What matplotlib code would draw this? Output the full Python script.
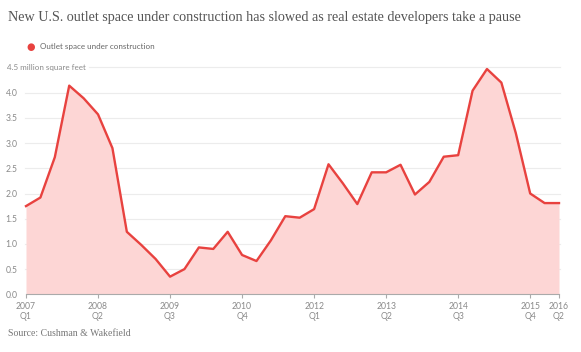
import matplotlib.pyplot as plt
import numpy as np

# quarterly outlet space under construction, 2007 Q1 .. 2016 Q2 (million sq ft)
quarters = np.arange(38)
space = [1.75, 1.92, 2.72, 4.14, 3.89, 3.57, 2.90, 1.24,
         0.98, 0.70, 0.35, 0.50, 0.93, 0.90, 1.24, 0.78,
         0.66, 1.07, 1.55, 1.52, 1.69, 2.58, 2.20, 1.79,
         2.42, 2.42, 2.57, 1.98, 2.23, 2.73, 2.76, 4.04,
         4.47, 4.20, 3.20, 2.00, 1.81, 1.81]
tick_pos = [0, 5, 10, 15, 20, 25, 30, 35, 37]
tick_years = ['2007', '2008', '2009', '2010', '2012', '2013', '2014', '2015', '2016']
tick_qtrs = ['Q1', 'Q2', 'Q3', 'Q4', 'Q1', 'Q2', 'Q3', 'Q4', 'Q2']
y_ticks = [0.0, 0.5, 1.0, 1.5, 2.0, 2.5, 3.0, 3.5, 4.0]

red = '#e8423f'
fill = '#fdd6d5'
grey = '#8a8a8a'
sans = 'Lato'
serif = 'Liberation Serif'

fig = plt.figure(figsize=(5.81, 3.52), dpi=100)
ax = fig.add_axes([26 / 581, 1 - 294.3 / 352, (559 - 26) / 581, (294.3 - 67.5) / 352])

ax.fill_between(quarters, space, 0, color=fill, lw=0, zorder=1)
ax.plot(quarters, space, color=red, lw=1.7, zorder=3, clip_on=False)

ax.set_xlim(0, 37)
ax.set_ylim(0, 4.5)

# horizontal grid
for v in y_ticks[1:]:
    ax.plot([-0.1, 37.1], [v, v], color='#ececec', lw=0.8, zorder=0.5, clip_on=False)
ax.plot([4.4, 37.1], [4.5, 4.5], color='#ececec', lw=0.8, zorder=0.5, clip_on=False)
ax.text(-1.3, 4.5, '4.5 million square feet', fontsize=5.8, color=grey,
        family=sans, va='center', ha='left')

ax.set_yticks(y_ticks)
ax.set_yticklabels([f'{v:.1f}' for v in y_ticks], fontsize=6.2, color=grey, family=sans)
ax.tick_params(axis='y', length=0, pad=6)
ax.set_xticks(tick_pos)
ax.set_xticklabels([])
ax.tick_params(axis='x', length=3, color='#aaaaaa', width=0.8)

# two-line x labels, each line centred on its tick
trans = ax.get_xaxis_transform()
for p, yr, q in zip(tick_pos, tick_years, tick_qtrs):
    ax.text(p, -0.055, yr, transform=trans, fontsize=6.2, color=grey, family=sans,
            ha='center', va='center')
    ax.text(p, -0.1, q, transform=trans, fontsize=6.2, color=grey, family=sans,
            ha='center', va='center')

for s in ['top', 'right', 'left']:
    ax.spines[s].set_visible(False)
ax.spines['bottom'].set_color('#aaaaaa')
ax.spines['bottom'].set_linewidth(0.8)

fig.text(8 / 581, 1 - 18 / 352,
         'New U.S. outlet space under construction has slowed as real estate developers take a pause',
         fontsize=10.2, color='#555555', family=serif, va='center', ha='left')
fig.text(31 / 581, 1 - 47 / 352, '\u25cf', fontsize=7, color=red, va='center', ha='center')
fig.text(40 / 581, 1 - 47 / 352, 'Outlet space under construction', fontsize=5.8,
         color='#666666', family=sans, va='center', ha='left')
fig.text(8 / 581, 1 - 334 / 352, 'Source: Cushman & Wakefield', fontsize=7,
         color='#777777', family=serif, va='center', ha='left')

fig.savefig('out.png', dpi=100)
